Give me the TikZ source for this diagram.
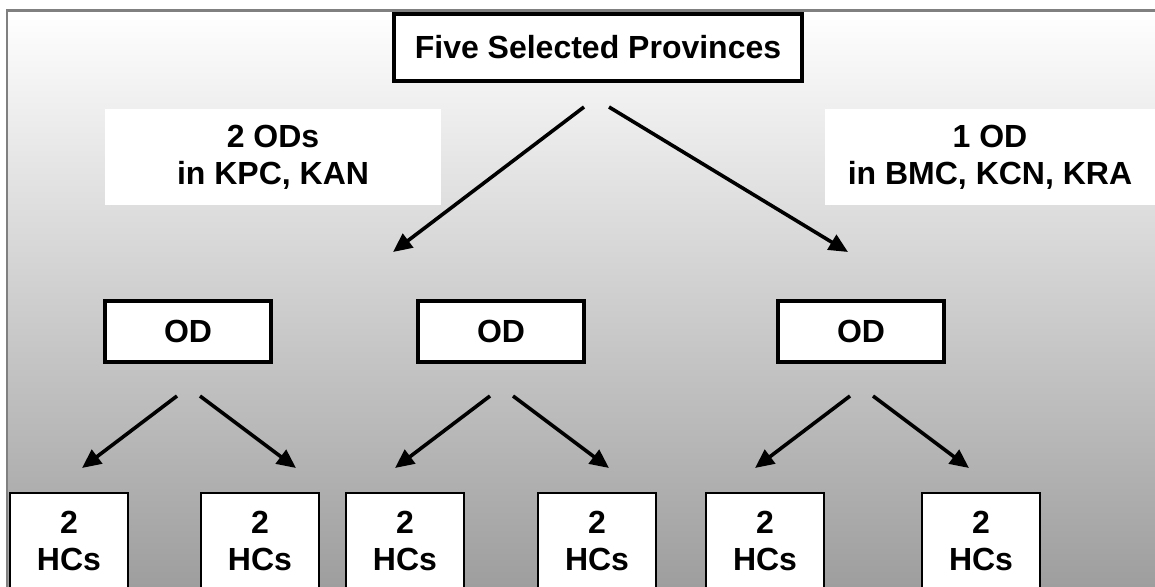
\documentclass[tikz,border=0pt]{standalone}
\usepackage{fontspec}
\setmainfont{Liberation Sans}
\usetikzlibrary{positioning,arrows.meta}

\begin{document}
\begin{tikzpicture}[x=1pt, y=-1pt,
  topbox/.style={draw, line width=4.5pt, fill=white, minimum width=408pt,
                 minimum height=67pt, font=\fontsize{32}{37}\selectfont\bfseries},
  odbox/.style={draw, line width=4.5pt, fill=white, minimum width=166pt,
                minimum height=61pt, font=\fontsize{32}{37}\selectfont\bfseries},
  hcbox/.style={draw, line width=2.5pt, fill=white, minimum width=118pt,
                minimum height=96pt, align=center,
                font=\fontsize{32}{37}\selectfont\bfseries},
  lbl/.style={fill=white, inner sep=0pt, minimum width=#1, minimum height=96pt,
              align=center, font=\fontsize{32}{37}\selectfont\bfseries},
  ar/.style={line width=3.6pt, -{Triangle[length=19pt, width=17pt]}},
]
\useasboundingbox (0,0) rectangle (1155,586);
\shade[top color=white, bottom color=black!38] (7,10.5) rectangle (1155,586);
\draw[black!50, line width=2.5pt] (7,590) -- (7,10.5) -- (1155,10.5);

\node[topbox] (prov) at (598,47.5) {Five Selected Provinces};

\node[lbl=336pt] (twood) at (273,157) {2 ODs\\in KPC, KAN};
\node[lbl=330pt] (oneod) at (990,157) {1 OD\\in BMC, KCN, KRA};

\node[odbox] (od1) at (188,331.5) {OD};
\node[odbox] (od2) at (501,331.5) {OD};
\node[odbox] (od3) at (861,331.5) {OD};

\node[hcbox] (hc1) at (69,541)  {2\\HCs};
\node[hcbox] (hc2) at (260,541) {2\\HCs};
\node[hcbox] (hc3) at (405,541) {2\\HCs};
\node[hcbox] (hc4) at (597,541) {2\\HCs};
\node[hcbox] (hc5) at (765,541) {2\\HCs};
\node[hcbox] (hc6) at (981,541) {2\\HCs};

% arrow ends
\coordinate (pl) at (584,107);  \coordinate (pr) at (609,107);
\coordinate (tl) at (393,252);  \coordinate (tr) at (848,252);
\coordinate (a1l) at (177,396); \coordinate (a1r) at (200,396);
\coordinate (b1l) at (82,468);  \coordinate (b1r) at (296,468);
\coordinate (a2l) at (490,396); \coordinate (a2r) at (513,396);
\coordinate (b2l) at (395,468); \coordinate (b2r) at (609,468);
\coordinate (a3l) at (850,396); \coordinate (a3r) at (873,396);
\coordinate (b3l) at (755,468); \coordinate (b3r) at (969,468);

\draw[ar] (pl) -- (tl);
\draw[ar] (pr) -- (tr);
\draw[ar] (a1l) -- (b1l);
\draw[ar] (a1r) -- (b1r);
\draw[ar] (a2l) -- (b2l);
\draw[ar] (a2r) -- (b2r);
\draw[ar] (a3l) -- (b3l);
\draw[ar] (a3r) -- (b3r);
\end{tikzpicture}
\end{document}
